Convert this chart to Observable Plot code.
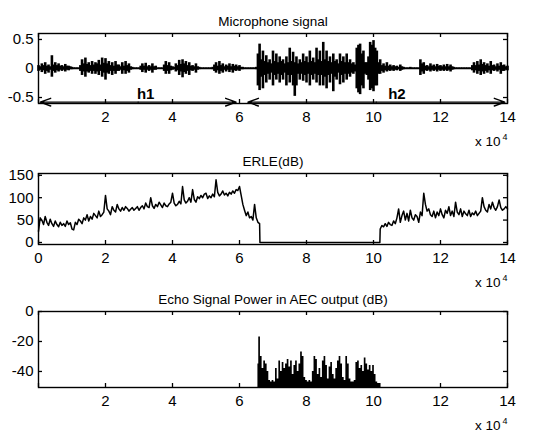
<!DOCTYPE html>
<html><head><meta charset="utf-8">
<script src="https://cdn.jsdelivr.net/npm/d3@7"></script>
<script src="https://cdn.jsdelivr.net/npm/@observablehq/plot@0.6"></script>
<style>
body{margin:0;background:#fff;}
#wrap{position:relative;width:552px;height:435px;overflow:hidden;}
#wrap svg{position:absolute;left:0;}
</style>
</head><body><div id="wrap"></div>
<script>
// ---- data (x in units of 10^4 samples) ----
const titles = ["Microphone signal", "ERLE(dB)", "Echo Signal Power in AEC output (dB)"];
const xTicks = [0,2,4,6,8,10,12,14];
const xLabels1 = [2,4,6,8,10,12,14];
const xLabels2 = [0,2,4,6,8,10,12,14];
const yTicks1 = [-0.5,0,0.5];
const yTicks2 = [0,50,100,150];
const yTicks3 = [-40,-20,0];

// Microphone signal envelope (upper / lower), sampled every 0.05 (x 10^4)
const micStep = 0.05;
const micHi = [
0.05,0.03,0.08,0.05,0.10,0.04,0.06,0.03,0.22,0.06,
0.10,0.05,0.08,0.04,0.05,0.03,0.07,0.04,0.04,0.03,
0.02,0.01,0.01,0.01,0.01,0.05,0.15,0.08,0.18,0.07,
0.10,0.05,0.12,0.06,0.10,0.08,0.14,0.06,0.18,0.09,
0.17,0.08,0.12,0.05,0.10,0.04,0.12,0.06,0.06,0.03,
0.10,0.04,0.12,0.05,0.08,0.03,0.02,0.01,0.01,0.01,
0.01,0.04,0.08,0.04,0.09,0.03,0.05,0.03,0.08,0.03,
0.04,0.01,0.01,0.01,0.01,0.06,0.12,0.05,0.10,0.04,
0.03,0.02,0.08,0.05,0.14,0.07,0.15,0.08,0.12,0.05,
0.10,0.04,0.05,0.03,0.08,0.03,0.02,0.01,0.01,0.01,
0.01,0.01,0.01,0.01,0.02,0.06,0.10,0.04,0.12,0.05,
0.08,0.03,0.06,0.04,0.08,0.03,0.07,0.04,0.06,0.03,
0.05,0.02,0.02,0.01,0.01,0.01,0.01,0.01,0.01,0.01,
0.02,0.25,0.42,0.15,0.30,0.12,0.22,0.10,0.15,0.08,
0.30,0.12,0.25,0.10,0.20,0.12,0.15,0.08,0.20,0.10,
0.35,0.12,0.28,0.10,0.20,0.08,0.15,0.10,0.25,0.12,
0.20,0.10,0.30,0.12,0.18,0.10,0.35,0.15,0.30,0.12,
0.45,0.15,0.30,0.12,0.20,0.10,0.25,0.12,0.15,0.08,
0.25,0.12,0.20,0.10,0.25,0.10,0.15,0.08,0.10,0.06,
0.35,0.40,0.42,0.25,0.30,0.10,0.10,0.20,0.45,0.40,
0.48,0.35,0.30,0.10,0.15,0.05,0.08,0.04,0.10,0.04,
0.06,0.03,0.05,0.03,0.04,0.02,0.06,0.03,0.02,0.01,
0.01,0.01,0.02,0.01,0.01,0.01,0.01,0.01,0.15,0.08,
0.10,0.04,0.05,0.03,0.08,0.04,0.06,0.03,0.07,0.04,
0.05,0.03,0.06,0.03,0.07,0.03,0.06,0.03,0.02,0.01,
0.01,0.01,0.01,0.01,0.01,0.01,0.01,0.01,0.01,0.05,
0.10,0.05,0.12,0.06,0.15,0.07,0.10,0.05,0.08,0.04,
0.12,0.05,0.06,0.03,0.08,0.04,0.10,0.05,0.06,0.03,
0.04];
const micLo = [
-0.05,-0.03,-0.07,-0.04,-0.10,-0.05,-0.08,-0.03,-0.15,-0.05,
-0.08,-0.04,-0.06,-0.03,-0.05,-0.03,-0.06,-0.03,-0.04,-0.02,
-0.02,-0.01,-0.01,-0.01,-0.01,-0.05,-0.12,-0.06,-0.15,-0.06,
-0.08,-0.05,-0.10,-0.05,-0.10,-0.06,-0.12,-0.05,-0.15,-0.08,
-0.20,-0.08,-0.10,-0.05,-0.12,-0.05,-0.10,-0.05,-0.05,-0.03,
-0.10,-0.04,-0.10,-0.05,-0.08,-0.03,-0.02,-0.01,-0.01,-0.01,
-0.01,-0.03,-0.07,-0.03,-0.08,-0.03,-0.05,-0.03,-0.08,-0.03,
-0.03,-0.01,-0.01,-0.01,-0.01,-0.05,-0.10,-0.05,-0.10,-0.04,
-0.03,-0.02,-0.06,-0.04,-0.12,-0.06,-0.16,-0.07,-0.10,-0.05,
-0.12,-0.04,-0.05,-0.03,-0.08,-0.03,-0.02,-0.01,-0.01,-0.01,
-0.01,-0.01,-0.01,-0.01,-0.02,-0.05,-0.08,-0.04,-0.10,-0.05,
-0.08,-0.03,-0.06,-0.03,-0.07,-0.03,-0.08,-0.04,-0.05,-0.03,
-0.05,-0.02,-0.02,-0.01,-0.01,-0.01,-0.01,-0.01,-0.01,-0.01,
-0.02,-0.30,-0.38,-0.15,-0.35,-0.12,-0.25,-0.10,-0.20,-0.08,
-0.30,-0.12,-0.20,-0.10,-0.25,-0.12,-0.20,-0.08,-0.30,-0.12,
-0.25,-0.12,-0.30,-0.48,-0.30,-0.10,-0.20,-0.10,-0.22,-0.12,
-0.25,-0.10,-0.30,-0.12,-0.20,-0.10,-0.25,-0.12,-0.30,-0.12,
-0.30,-0.15,-0.35,-0.12,-0.25,-0.10,-0.40,-0.15,-0.20,-0.08,
-0.28,-0.12,-0.25,-0.10,-0.20,-0.10,-0.15,-0.08,-0.10,-0.06,
-0.35,-0.42,-0.45,-0.30,-0.35,-0.10,-0.12,-0.20,-0.38,-0.35,
-0.40,-0.30,-0.30,-0.10,-0.10,-0.05,-0.08,-0.04,-0.06,-0.04,
-0.05,-0.03,-0.05,-0.03,-0.04,-0.02,-0.05,-0.03,-0.02,-0.01,
-0.01,-0.01,-0.01,-0.01,-0.01,-0.01,-0.01,-0.01,-0.12,-0.06,
-0.10,-0.04,-0.05,-0.03,-0.06,-0.03,-0.05,-0.03,-0.06,-0.03,
-0.05,-0.03,-0.05,-0.03,-0.05,-0.03,-0.06,-0.03,-0.02,-0.01,
-0.01,-0.01,-0.01,-0.01,-0.01,-0.01,-0.01,-0.01,-0.01,-0.04,
-0.08,-0.04,-0.10,-0.05,-0.12,-0.06,-0.10,-0.05,-0.08,-0.04,
-0.10,-0.04,-0.05,-0.03,-0.06,-0.03,-0.10,-0.05,-0.05,-0.03,
-0.04];

// h1 / h2 annotations (double arrows near the bottom of the first panel)
const spans = [
  {label:"h1", x1:0.05, x2:5.9, y:-0.58, lx:3.2, ly:-0.44},
  {label:"h2", x1:6.25, x2:13.92, y:-0.58, lx:10.7, ly:-0.44}
];

// ERLE (dB), sampled every 0.05 on two active segments, zero in between
const erleStep = 0.05;
const erleStartA = 0;
const erleA = [
25,55,50,40,58,45,38,52,42,36,48,40,35,45,38,42,36,48,40,44,
30,28,45,40,52,48,42,55,50,62,48,58,52,65,60,55,70,58,62,68,
105,75,70,62,80,72,68,85,75,70,78,72,80,76,70,74,78,72,76,80,
72,78,82,75,88,80,78,100,82,76,85,80,90,84,78,88,82,80,86,90,
110,88,82,85,92,86,125,95,88,92,100,90,118,96,90,102,98,105,100,108,
110,98,104,100,108,102,140,112,104,108,115,106,110,104,112,108,115,110,118,116,
125,105,85,72,60,68,55,58,50,85,55,45,42];
const erleGap = [{x:6.61, y:0}, {x:10.19, y:0}];
const erleStartB = 10.2;
const erleB = [
30,38,35,42,36,45,40,38,48,42,
55,75,45,60,70,50,65,48,72,55,
50,62,58,45,68,60,110,85,70,75,
62,58,70,55,68,60,75,62,55,72,
65,80,60,70,58,90,68,62,75,58,
70,64,60,72,58,66,62,70,60,65,
70,100,80,72,68,85,75,90,78,72,
80,95,78,72,75,80,75];

// Echo signal power (dB), sampled every 0.05 from 6.55
const echoStep = 0.05;
const echoStart = 6.55;
const echoFloor = -50.7;
const echo = [
-35,-17,-30,-38,-33,-35,-40,-46,-47,-46,
-47,-38,-45,-33,-40,-34,-38,-35,-32,-37,
-33,-42,-36,-33,-40,-35,-27,-30,-44,-46,
-47,-46,-47,-40,-30,-32,-42,-38,-44,-33,
-30,-36,-45,-37,-34,-42,-45,-38,-33,-30,
-35,-44,-46,-30,-35,-45,-47,-47,-46,-34,
-33,-38,-36,-40,-31,-35,-39,-36,-40,-36,
-42,-47,-48,-48,-50.7];

// ---- build rows ----
const micRows = micHi.map((h,i)=>({x:i*micStep, hi:h, lo:micLo[i]}));
const arrowRows = spans.flatMap(s => {
  const m = (s.x1 + s.x2) / 2;
  return [{x1:m, x2:s.x1, y:s.y}, {x1:m, x2:s.x2, y:s.y}];
});
const erleRows = [
  ...erleA.map((v,i)=>({x:erleStartA+i*erleStep, y:v})),
  ...erleGap,
  ...erleB.map((v,i)=>({x:erleStartB+i*erleStep, y:v}))
];
const echoRows = echo.map((v,i)=>({x:echoStart+i*echoStep, y:v}));

const W = 552, ML = 38, MR = 45, MT = 33;
const FONT = "'Liberation Sans', Arial, Helvetica, sans-serif";

function panel({top, height, mb, yDomain, yTicks, xLabels, title, marks}) {
  const fw = W - ML - MR, fh = height - MT - mb;
  const svg = Plot.plot({
    width: W, height, marginLeft: ML, marginRight: MR, marginTop: MT, marginBottom: mb,
    x: {domain:[0,14]}, y: {domain: yDomain},
    style: {fontFamily: FONT, fontSize: "15px", color: "#000", background: "transparent", overflow: "visible"},
    marks: [
      ...marks,
      Plot.frame({stroke:"#000", strokeWidth:1.4}),
      Plot.ruleX(xTicks, {x: d=>d, insetBottom: fh-4, stroke:"#000", strokeWidth:1.3}),
      Plot.ruleX(xTicks, {x: d=>d, insetTop: fh-4, stroke:"#000", strokeWidth:1.3}),
      Plot.ruleY(yTicks, {y: d=>d, insetRight: fw-4, stroke:"#000", strokeWidth:1.3}),
      Plot.ruleY(yTicks, {y: d=>d, insetLeft: fw-4, stroke:"#000", strokeWidth:1.3}),
      Plot.axisX(xLabels, {tickSize:0, tickPadding:8, label:null, fontSize:15, tickFormat: d=>String(d)}),
      Plot.axisY(yTicks, {tickSize:0, tickPadding:5, label:null, fontSize:15, tickFormat: d=>String(d)}),
      Plot.text([title], {frameAnchor:"top", dy:-17, fontSize:13.5, fill:"#000"}),
      Plot.text(["x 10"], {frameAnchor:"bottom-right", dy:42, dx:-7, textAnchor:"end", fontSize:13.5, fill:"#000"}),
      Plot.text(["4"], {frameAnchor:"bottom-right", dy:36, dx:-5, textAnchor:"start", fontSize:9, fill:"#000"})
    ]
  });
  svg.style.top = top + "px";
  document.getElementById("wrap").appendChild(svg);
}

panel({top:0, height:150, mb:47, yDomain:[-0.603,0.603], yTicks:yTicks1, xLabels:xLabels1, title:titles[0],
  marks:[
    Plot.ruleX(micRows, {x:"x", y1:"lo", y2:"hi", stroke:"#000", strokeWidth:2.6}),
    Plot.ruleY([0], {stroke:"#000", strokeWidth:1.6}),
    Plot.arrow(arrowRows, {x1:"x1", x2:"x2", y1:"y", y2:"y", stroke:"#000", strokeWidth:1.4, headLength:12, headAngle:40}),
    Plot.text(spans, {x:"lx", y:"ly", text:"label", fontSize:15, fontWeight:"bold", fill:"#000"})
  ]});

panel({top:140, height:150, mb:46, yDomain:[-4.5,154], yTicks:yTicks2, xLabels:xLabels2, title:titles[1],
  marks:[
    Plot.line(erleRows, {x:"x", y:"y", stroke:"#000", strokeWidth:1.5})
  ]});

panel({top:278, height:157, mb:48, yDomain:[echoFloor,0], yTicks:yTicks3, xLabels:xLabels1, title:titles[2],
  marks:[
    Plot.areaY(echoRows, {x:"x", y1:echoFloor, y2:"y", fill:"#000", curve:"step"})
  ]});
</script>
</body></html>
